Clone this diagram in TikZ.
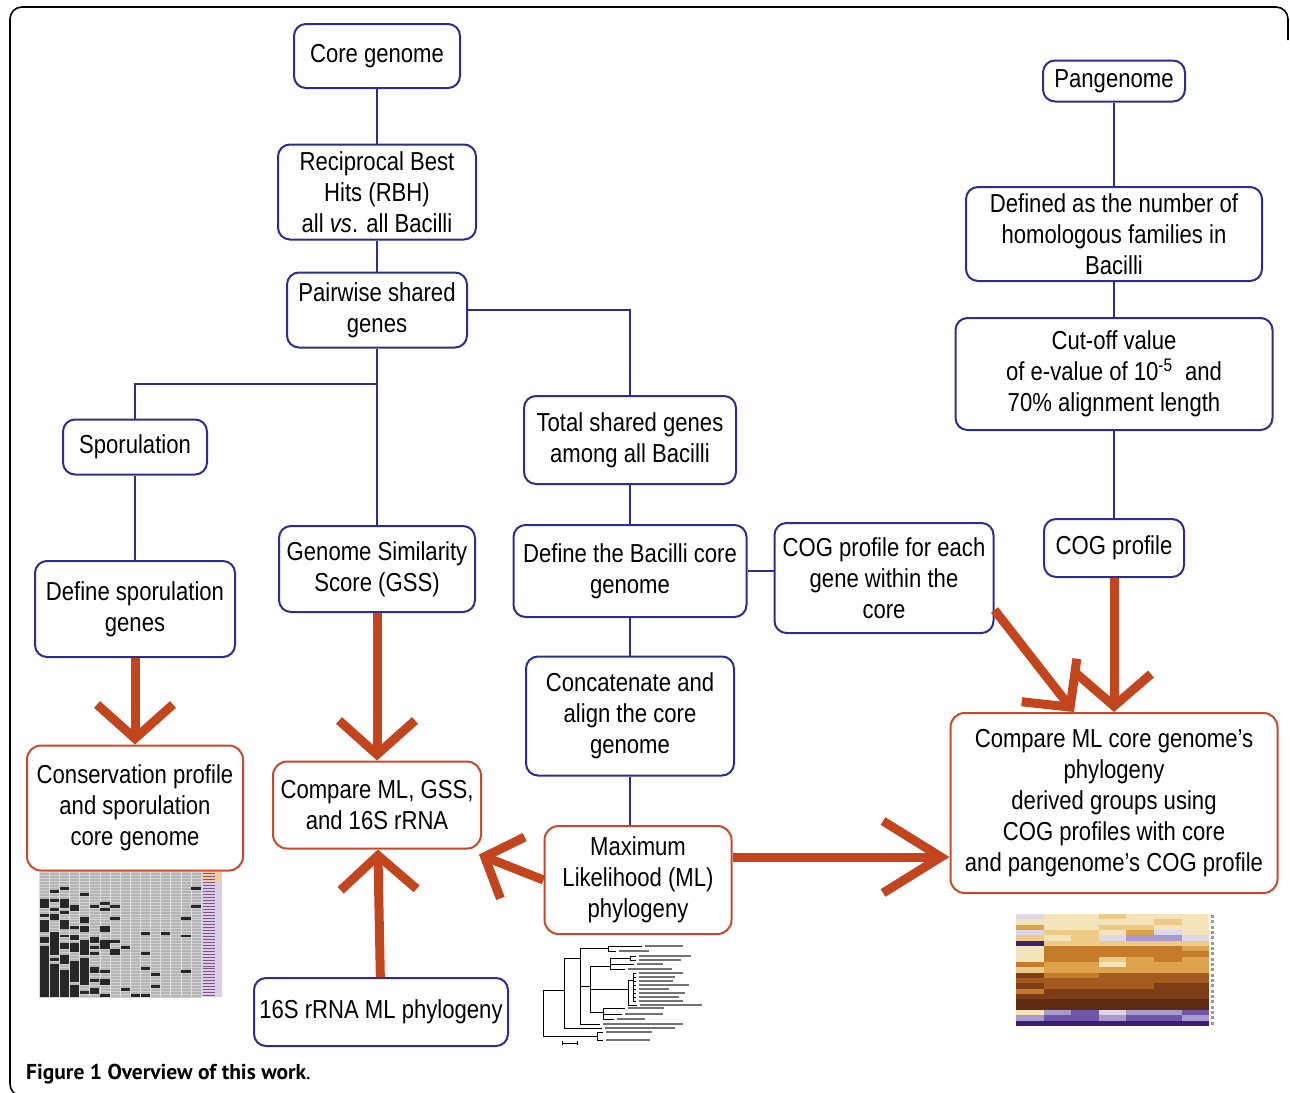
\documentclass[tikz,border=0pt]{standalone}
\usepackage{fontspec}
\setmainfont{Liberation Sans}[FakeStretch=0.85]
\newfontfamily\capfont{PT Sans}
\usetikzlibrary{arrows.meta}

\definecolor{boxblue}{HTML}{2F2D8A}
\definecolor{boxred}{HTML}{C8482A}
\definecolor{arrowred}{HTML}{C2451E}
\definecolor{matgray}{HTML}{B4B4B4}
\definecolor{labpurple}{HTML}{D9CDEB}
\definecolor{labpeach}{HTML}{F2CBA6}
% heatmap palette
\definecolor{hm0}{HTML}{F5E3BA}
\definecolor{hm1}{HTML}{EDCB86}
\definecolor{hm2}{HTML}{DDA34C}
\definecolor{hm3}{HTML}{C47C2A}
\definecolor{hm4}{HTML}{A35B20}
\definecolor{hm5}{HTML}{7C3D17}
\definecolor{hm6}{HTML}{5E2B12}
\definecolor{hm7}{HTML}{DDD7EB}
\definecolor{hm8}{HTML}{A999D1}
\definecolor{hm9}{HTML}{6F57A7}
\definecolor{hm10}{HTML}{3B1D73}

\begin{document}
\begin{tikzpicture}[x=1pt,y=-1pt,
  every node/.style={font=\fontsize{26}{31}\selectfont},
  bluebox/.style={draw=boxblue,line width=2pt,rounded corners=12pt,align=center,inner sep=2pt},
  redbox/.style={draw=boxred,line width=2pt,rounded corners=14pt,align=center,inner sep=2pt},
  link/.style={draw=boxblue,line width=2pt},
  fatarrow/.style 2 args={draw=arrowred,line width=9pt,-{Straight Barb[length=#1,width=#2]}},
  labelbar/.style={draw=black!55,line width=1.8pt},
  frame/.style={draw=black,line width=1.6pt,rounded corners=12pt}]

\useasboundingbox (0,0) rectangle (1290,1092);

%FRAME
\draw[frame] (1288,40) -- (1288,7) -- (10,7) -- (10,1096) -- (40,1096);

%BOXES
% core genome column
\node[bluebox,minimum width=166pt,minimum height=64pt] (core) at (377,56) {Core genome};
\node[bluebox,minimum width=198pt,minimum height=95pt] (rbh) at (377,192) {Reciprocal Best\\Hits (RBH)\\all \textit{vs}. all Bacilli};
\node[bluebox,minimum width=180pt,minimum height=75pt] (pair) at (377,310) {Pairwise shared\\genes};
\node[bluebox,minimum width=196pt,minimum height=86pt] (gss) at (377,569) {Genome Similarity\\Score (GSS)};
\node[redbox,minimum width=208pt,minimum height=87pt] (cmp) at (377,805) {Compare ML, GSS,\\and 16S rRNA};
\node[bluebox,minimum width=254pt,minimum height=68pt] (rrna) at (381,1012) {16S rRNA ML phylogeny};
% sporulation column
\node[bluebox,minimum width=144pt,minimum height=55pt] (spo) at (135,447) {Sporulation};
\node[bluebox,minimum width=200pt,minimum height=96pt] (defspo) at (135,609) {Define sporulation\\genes};
\node[redbox,minimum width=216pt,minimum height=125pt] (cons) at (135,808) {Conservation profile\\and sporulation\\core genome};
% shared genes column
\node[bluebox,minimum width=212pt,minimum height=88pt] (total) at (630,440) {Total shared genes\\among all Bacilli};
\node[bluebox,minimum width=233pt,minimum height=92pt] (bcore) at (630,571) {Define the Bacilli core\\genome};
\node[bluebox,minimum width=219pt,minimum height=110pt] (cogeach) at (884,578) {COG profile for each\\gene within the\\core};
\node[bluebox,minimum width=208pt,minimum height=119pt] (concat) at (630,716) {Concatenate and\\align the core\\genome};
\node[redbox,minimum width=187pt,minimum height=108pt] (ml) at (638,880) {Maximum\\Likelihood (ML)\\phylogeny};
% pangenome column
\node[bluebox,minimum width=142pt,minimum height=41pt] (pan) at (1114,81) {Pangenome};
\node[bluebox,minimum width=296pt,minimum height=94pt] (defd) at (1114,234) {Defined as the number of\\homologous families in\\Bacilli};
\node[bluebox,minimum width=317pt,minimum height=112pt] (cut) at (1114,374) {Cut-off value\\of e-value of 10\textsuperscript{-5}\ \ and\\70\% alignment length};
\node[bluebox,minimum width=140pt,minimum height=58pt] (cog) at (1114,548) {COG profile};
\node[redbox,minimum width=327pt,minimum height=180pt] (compare) at (1114,803) {Compare ML core genome's\\phylogeny\\derived groups using\\COG profiles with core\\and pangenome's COG profile};

%LINKS
\coordinate (split) at (377,384);
\draw[link] (core) -- (rbh);
\draw[link] (rbh) -- (pair);
\draw[link] (pair) -- (gss);
\draw[link] (split) -| (spo);
\draw[link] (spo) -- (defspo);
\draw[link] (pair.east) -| (total.north);
\draw[link] (total) -- (bcore);
\draw[link] (bcore.east) -- (bcore.east -| cogeach.west);
\draw[link] (bcore) -- (concat);
\draw[link] (concat.south) -- (concat.south |- ml.north);
\draw[link] (pan) -- (defd);
\draw[link] (defd) -- (cut);
\draw[link] (cut) -- (cog);

%ARROWS
\draw[fatarrow={34pt}{76pt}] (defspo) -- (cons);
\draw[fatarrow={34pt}{76pt}] (gss) -- (cmp);
\draw[fatarrow={34pt}{76pt}] (rrna) -- (cmp);
\draw[fatarrow={30pt}{66pt}] (ml.west) -- ([xshift=-3pt,yshift=-5pt]cmp.south east);
\draw[fatarrow={58pt}{72pt}] ([yshift=23pt]ml.east) -- ([yshift=23pt]ml.east -| compare.west);
\draw[fatarrow={34pt}{70pt}] ([yshift=-32pt]cogeach.east) -- ([xshift=-40pt]compare.north);
\draw[fatarrow={32pt}{74pt}] (cog) -- (compare);

%THUMBNAILS
% sporulation matrix
\fill[matgray] (39,872) rectangle (201,997);
\foreach \r in {0,...,42} \draw[black!18,line width=0.3pt] (39,872+\r*2.976) -- (201,872+\r*2.976);
\foreach \c in {0,...,16} \draw[white!75!gray,line width=0.5pt] (39+\c*10.125,872) -- ++(0,125);
\pgfmathsetseed{5}
\foreach \r in {0,...,41}{
  \foreach \c in {0,...,15}{
    \pgfmathsetmacro{\pb}{(\r/41)^0.9*max(0.1,1.4-\c/6)}
    \pgfmathsetmacro{\rv}{rnd}
    \ifdim\rv pt<\pb pt
      \fill[black!85] (39.6+\c*10.125,872+\r*2.976) rectangle ++(9.2,2.976);
    \fi
  }
}
\fill[labpurple] (201,872) rectangle (222,997);
\fill[labpeach] (201,872) rectangle (222,881);
\foreach \r in {0,...,41} \draw[violet!35!gray,line width=0.5pt] (203,873.5+\r*2.976) -- ++(12,0);

% tree
\begin{scope}[line width=0.9pt]
\draw (543,990) -- (543,1036);
\draw (543,1036) -- (597,1036) (597,1032) -- (597,1040) (597,1032) -- (603,1032) (597,1040) -- (603,1040);
\draw (543,990) -- (564,990) (564,958) -- (564,1028) (564,1028) -- (602,1028);
\draw (564,958) -- (580,958) (580,948) -- (580,1024) (580,1024) -- (600,1024);
\draw (580,948) -- (608,948) (608,946) -- (608,951) (608,946) -- (642,946) (608,951) -- (616,951);
\draw (580,986) -- (590,986) (590,966) -- (590,1012);
\draw (590,966) -- (610,966) (610,958) -- (610,969) (610,958) -- (630,958) (630,956) -- (630,960)
      (630,956) -- (636,956) (630,960) -- (636,960) (610,964) -- (634,964) (610,969) -- (625,969);
\draw (590,989) -- (628,989) (628,980) -- (628,1005) (628,980) -- (633,980) (633,973) -- (633,1001) (628,1005) -- (637,1005);
\foreach \y in {973,977,...,1001} \draw (633,\y) -- (636,\y);
\draw (590,1012) -- (603,1012) (603,1008) -- (603,1019) (603,1008) -- (625,1008) (603,1014) -- (622,1014) (603,1019) -- (614,1019);
\draw (562,1043) -- (577,1043) (562,1041) -- (562,1045) (577,1041) -- (577,1045);
\end{scope}
\foreach \x/\y/\l in {642/946/38,616/951/30,636/956/52,636/960/42,634/964/26,625/969/44,
  636/973/44,636/977/36,636/981/34,636/985/50,636/989/30,636/993/46,636/997/40,636/1001/44,
  637/1005/62,625/1008/36,622/1014/38,614/1019/28,600/1024/80,602/1028/70,603/1032/46,603/1040/44}
  \draw[labelbar] (\x+3,\y) -- ++(\l,0);

% heatmap
\foreach \row [count=\r from 0] in {{7,0,0,1,0,0,0},{0,0,0,0,0,1,0},{2,0,0,1,1,0,0},{7,1,1,0,2,7,0},
  {1,0,1,7,8,8,7},{10,1,1,1,1,1,1},{0,3,3,3,3,3,2},{0,3,3,3,3,3,3},{0,3,3,1,2,3,2},
  {3,2,2,0,2,2,2},{1,2,2,2,2,2,2},{5,3,3,4,4,4,4},{4,4,4,4,4,4,4},{5,4,4,4,4,5,5},
  {3,5,5,5,5,5,5},{5,5,5,5,5,5,5},{6,6,6,6,6,6,6},{6,6,6,6,6,6,6},{0,8,9,7,8,8,9},
  {8,9,9,8,9,9,8},{10,10,10,10,10,10,10}}{
  \foreach \v [count=\c from 0] in \row
    \fill[hm\v] (1016+\c*27.6,914+\r*5.33) rectangle ++(27.7,5.4);
  \fill[black!40] (1211,915+\r*5.33) rectangle ++(3,3);
}

%CAPTION
\node[anchor=base west,inner sep=0pt,font=\capfont\fontsize{21.5}{24}\selectfont\bfseries] (caption) at (26,1079) {Figure 1 Overview of this work{\mdseries.}};

\end{tikzpicture}
\end{document}
